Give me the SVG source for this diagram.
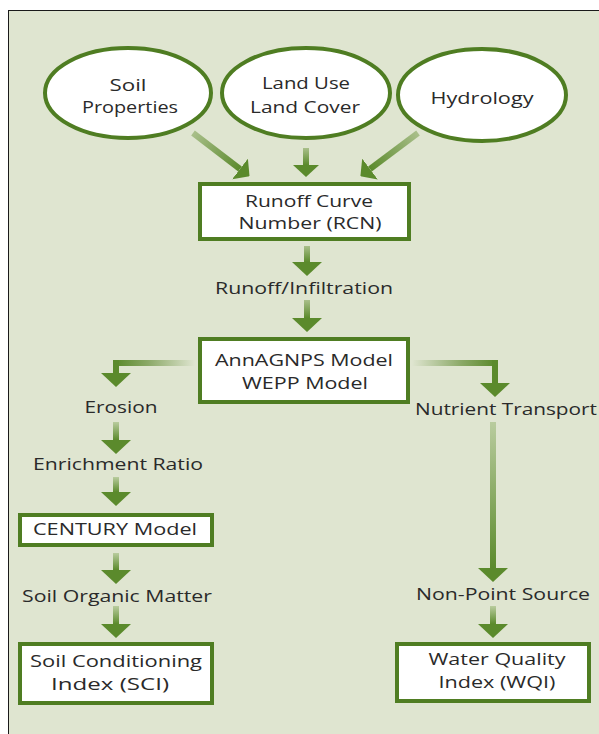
<svg xmlns="http://www.w3.org/2000/svg" width="599" height="734" viewBox="0 0 599 734">
<defs>
<style>
.t{font-family:"Open Sans","Liberation Sans",sans-serif;font-size:17px;fill:#2a2a2a;text-anchor:middle}
.box{fill:#ffffff;stroke:#4f7d22;stroke-width:4}
.ell{fill:#ffffff;stroke:#4f7d22;stroke-width:4}
.sh{fill:none;stroke-width:6}
</style>
<marker id="ah" markerUnits="userSpaceOnUse" viewBox="0 0 14 30" refX="0" refY="15" markerWidth="14" markerHeight="30" orient="auto">
<path d="M0,0 L14,15 L0,30 z" fill="#5b8a2c"/>
</marker>
<marker id="ahs" markerUnits="userSpaceOnUse" viewBox="0 0 12 26" refX="0" refY="13" markerWidth="12" markerHeight="26" orient="auto">
<path d="M0,0 L12,13 L0,26 z" fill="#5b8a2c"/>
</marker>
<linearGradient id="gSoil" gradientUnits="userSpaceOnUse" x1="193" y1="133" x2="240" y2="169"><stop offset="0" stop-color="#a9bf8a"/><stop offset="1" stop-color="#5b8a2c"/></linearGradient>
<linearGradient id="gHyd" gradientUnits="userSpaceOnUse" x1="418" y1="133" x2="370" y2="169"><stop offset="0" stop-color="#a9bf8a"/><stop offset="1" stop-color="#5b8a2c"/></linearGradient>
<linearGradient id="gV1" gradientUnits="userSpaceOnUse" x1="0" y1="148" x2="0" y2="165"><stop offset="0" stop-color="#a9bf8a"/><stop offset="1" stop-color="#5b8a2c"/></linearGradient>
<linearGradient id="gV2" gradientUnits="userSpaceOnUse" x1="0" y1="246" x2="0" y2="262"><stop offset="0" stop-color="#a9bf8a"/><stop offset="1" stop-color="#5b8a2c"/></linearGradient>
<linearGradient id="gV3" gradientUnits="userSpaceOnUse" x1="0" y1="300" x2="0" y2="318"><stop offset="0" stop-color="#a9bf8a"/><stop offset="1" stop-color="#5b8a2c"/></linearGradient>
<linearGradient id="gL" gradientUnits="userSpaceOnUse" x1="195" y1="0" x2="116" y2="0"><stop offset="0" stop-color="#dfe5d0"/><stop offset="0.6" stop-color="#8aa866"/><stop offset="1" stop-color="#5b8a2c"/></linearGradient>
<linearGradient id="gR" gradientUnits="userSpaceOnUse" x1="412" y1="0" x2="495" y2="0"><stop offset="0" stop-color="#dfe5d0"/><stop offset="0.6" stop-color="#8aa866"/><stop offset="1" stop-color="#5b8a2c"/></linearGradient>
<linearGradient id="gE1" gradientUnits="userSpaceOnUse" x1="0" y1="422" x2="0" y2="440"><stop offset="0" stop-color="#b9cc9e"/><stop offset="1" stop-color="#5b8a2c"/></linearGradient>
<linearGradient id="gE2" gradientUnits="userSpaceOnUse" x1="0" y1="477" x2="0" y2="492"><stop offset="0" stop-color="#b9cc9e"/><stop offset="1" stop-color="#5b8a2c"/></linearGradient>
<linearGradient id="gE3" gradientUnits="userSpaceOnUse" x1="0" y1="553" x2="0" y2="570"><stop offset="0" stop-color="#b9cc9e"/><stop offset="1" stop-color="#5b8a2c"/></linearGradient>
<linearGradient id="gE4" gradientUnits="userSpaceOnUse" x1="0" y1="606" x2="0" y2="624"><stop offset="0" stop-color="#b9cc9e"/><stop offset="1" stop-color="#5b8a2c"/></linearGradient>
<linearGradient id="gN1" gradientUnits="userSpaceOnUse" x1="0" y1="422" x2="0" y2="568"><stop offset="0" stop-color="#b9cc9e"/><stop offset="1" stop-color="#5b8a2c"/></linearGradient>
<linearGradient id="gN2" gradientUnits="userSpaceOnUse" x1="0" y1="606" x2="0" y2="624"><stop offset="0" stop-color="#b9cc9e"/><stop offset="1" stop-color="#5b8a2c"/></linearGradient>
</defs>
<rect x="0" y="0" width="599" height="734" fill="#ffffff"/>
<rect x="8.5" y="10.5" width="592" height="730" fill="#dfe5d0" stroke="#1a1a1a" stroke-width="1"/>

<g id="connectors">
<line class="sh" x1="193" y1="133" x2="240" y2="169" stroke="url(#gSoil)" marker-end="url(#ahs)"/>
<line class="sh" x1="306" y1="148" x2="306" y2="165" stroke="url(#gV1)" marker-end="url(#ahs)"/>
<line class="sh" x1="418" y1="133" x2="370" y2="169" stroke="url(#gHyd)" marker-end="url(#ahs)"/>
<line class="sh" x1="307" y1="246" x2="307" y2="262" stroke="url(#gV2)" marker-end="url(#ah)"/>
<line class="sh" x1="307" y1="300" x2="307" y2="318" stroke="url(#gV3)" marker-end="url(#ah)"/>
<polyline class="sh" points="195,363 116,363" stroke="url(#gL)"/>
<line class="sh" x1="116" y1="360" x2="116" y2="373" stroke="#5b8a2c" marker-end="url(#ah)"/>
<polyline class="sh" points="412,363 495,363" stroke="url(#gR)"/>
<line class="sh" x1="495" y1="360" x2="495" y2="383" stroke="#5b8a2c" marker-end="url(#ah)"/>
<line class="sh" x1="116" y1="422" x2="116" y2="440" stroke="url(#gE1)" marker-end="url(#ah)"/>
<line class="sh" x1="116" y1="477" x2="116" y2="492" stroke="url(#gE2)" marker-end="url(#ah)"/>
<line class="sh" x1="116" y1="553" x2="116" y2="570" stroke="url(#gE3)" marker-end="url(#ah)"/>
<line class="sh" x1="116" y1="606" x2="116" y2="624" stroke="url(#gE4)" marker-end="url(#ah)"/>
<line class="sh" x1="493" y1="422" x2="493" y2="568" stroke="url(#gN1)" marker-end="url(#ah)"/>
<line class="sh" x1="493" y1="606" x2="493" y2="624" stroke="url(#gN2)" marker-end="url(#ah)"/>
</g>

<g id="soil"><ellipse class="ell" cx="128" cy="93" rx="83" ry="45"/><text class="t" x="128" y="91" textLength="37" lengthAdjust="spacingAndGlyphs">Soil</text><text class="t" x="130" y="113" textLength="96" lengthAdjust="spacingAndGlyphs">Properties</text></g>
<g id="landuse"><ellipse class="ell" cx="306" cy="93" rx="84" ry="45"/><text class="t" x="306" y="89" textLength="88" lengthAdjust="spacingAndGlyphs">Land Use</text><text class="t" x="305" y="113" textLength="110" lengthAdjust="spacingAndGlyphs">Land Cover</text></g>
<g id="hydrology"><ellipse class="ell" cx="482" cy="95" rx="84" ry="46"/><text class="t" x="482" y="104" textLength="103" lengthAdjust="spacingAndGlyphs">Hydrology</text></g>
<g id="rcn"><rect class="box" x="200" y="184" width="209" height="55"/><text class="t" x="309" y="207" textLength="128" lengthAdjust="spacingAndGlyphs">Runoff Curve</text><text class="t" x="310" y="229" textLength="143" lengthAdjust="spacingAndGlyphs">Number (RCN)</text></g>
<g id="runoff"><text class="t" x="304" y="294" textLength="178" lengthAdjust="spacingAndGlyphs">Runoff/Infiltration</text></g>
<g id="annagnps"><rect class="box" x="200" y="339" width="208" height="63"/><text class="t" x="304" y="366" textLength="178" lengthAdjust="spacingAndGlyphs">AnnAGNPS Model</text><text class="t" x="305" y="389" textLength="126" lengthAdjust="spacingAndGlyphs">WEPP Model</text></g>
<g id="erosion"><text class="t" x="121" y="413" textLength="73" lengthAdjust="spacingAndGlyphs">Erosion</text></g>
<g id="enrichment"><text class="t" x="118" y="470" textLength="170" lengthAdjust="spacingAndGlyphs">Enrichment Ratio</text></g>
<g id="century"><rect class="box" x="20" y="515" width="192" height="30"/><text class="t" x="115" y="535" textLength="164" lengthAdjust="spacingAndGlyphs">CENTURY Model</text></g>
<g id="som"><text class="t" x="117" y="602" textLength="190" lengthAdjust="spacingAndGlyphs">Soil Organic Matter</text></g>
<g id="sci"><rect class="box" x="20" y="644" width="192" height="59"/><text class="t" x="116" y="667" textLength="172" lengthAdjust="spacingAndGlyphs">Soil Conditioning</text><text class="t" x="110" y="690" textLength="118" lengthAdjust="spacingAndGlyphs">Index (SCI)</text></g>
<g id="nutrient"><text class="t" x="506" y="415" textLength="182" lengthAdjust="spacingAndGlyphs">Nutrient Transport</text></g>
<g id="nps"><text class="t" x="503" y="600" textLength="174" lengthAdjust="spacingAndGlyphs">Non-Point Source</text></g>
<g id="wqi"><rect class="box" x="397" y="644" width="192" height="57"/><text class="t" x="497" y="665" textLength="137" lengthAdjust="spacingAndGlyphs">Water Quality</text><text class="t" x="497" y="688" textLength="117" lengthAdjust="spacingAndGlyphs">Index (WQI)</text></g>
</svg>
